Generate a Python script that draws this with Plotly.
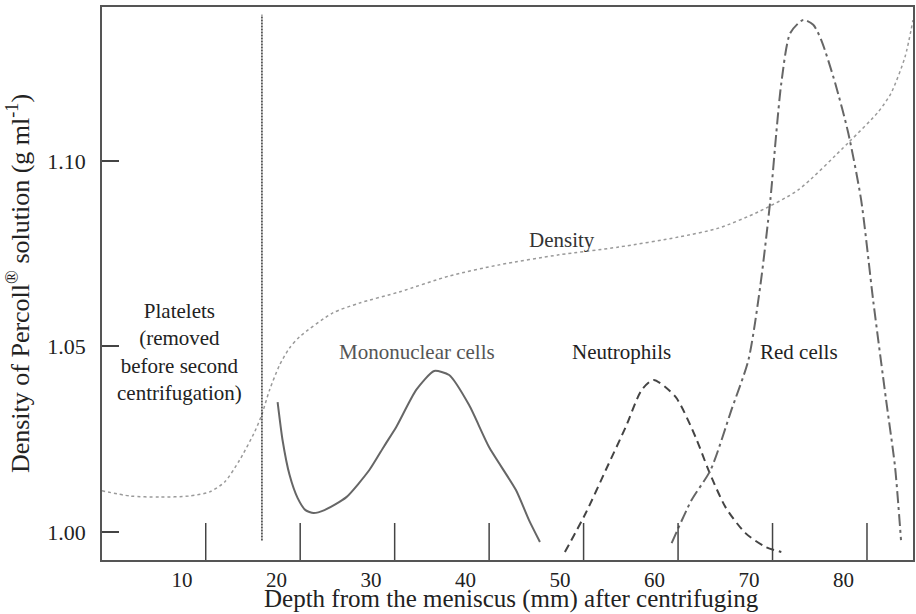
import plotly.graph_objects as go

# ---- data ----
density_x = [1.52, 4.48, 7.64, 10.81, 12.92, 14.51, 16.09, 17.68, 18.42, 19.26, 20.32, 21.37,
             22.43, 25.91, 28.76, 32.99, 38.27, 43.55, 49.88, 56.22, 62.55, 66.78, 71.00,
             75.22, 80.51, 83.68, 85.05, 86.52, 87.37]
density_y = [1.0111, 1.0097, 1.0094, 1.0097, 1.0108, 1.0135, 1.0194, 1.0270, 1.0315, 1.0383,
             1.0450, 1.0496, 1.0526, 1.0590, 1.0617, 1.0647, 1.0690, 1.0720, 1.0747, 1.0768,
             1.0795, 1.0819, 1.0863, 1.0922, 1.1049, 1.1132, 1.1183, 1.1280, 1.1380]

mono_x = [20.11, 20.63, 21.37, 22.22, 23.06, 23.91, 25.07, 27.39, 29.82, 31.40, 32.67, 34.78,
          36.68, 38.27, 40.38, 42.49, 45.34, 46.72, 47.88]
mono_y = [1.0350, 1.0248, 1.0154, 1.0092, 1.0059, 1.0051, 1.0059, 1.0094, 1.0167, 1.0232,
          1.0283, 1.0383, 1.0434, 1.0423, 1.0342, 1.0229, 1.0113, 1.0032, 0.9973]

neut_x = [50.52, 52.73, 54.85, 56.96, 58.65, 59.91, 62.24, 64.35, 65.72, 67.52, 69.63, 71.74, 73.43]
neut_y = [0.9946, 1.0051, 1.0167, 1.0283, 1.0383, 1.0410, 1.0364, 1.0256, 1.0167, 1.0067,
          0.9997, 0.9960, 0.9946]

red_x = [61.82, 63.93, 65.94, 68.15, 69.95, 71.22, 72.27, 72.90, 73.43, 74.38, 75.75, 76.81,
         77.66, 79.13, 80.51, 81.88, 83.15, 84.52, 85.47, 86.10]
red_y = [0.9970, 1.0086, 1.0167, 1.0329, 1.0464, 1.0666, 1.0895, 1.1076, 1.1210, 1.1345,
         1.1380, 1.1367, 1.1326, 1.1210, 1.1076, 1.0895, 1.0625, 1.0356, 1.0175, 0.9978]

separator_x = [18.45, 18.45]
separator_y = [0.9977, 1.1394]

x_tick_values = [10, 20, 30, 40, 50, 60, 70, 80]
x_tick_labels = ["10", "20", "30", "40", "50", "60", "70", "80"]
x_tick_marks = [12.5, 22.5, 32.5, 42.5, 52.5, 62.5, 72.5, 82.5]
y_tick_values = [1.00, 1.05, 1.10]
y_tick_labels = ["1.00", "1.05", "1.10"]

x_title = "Depth from the meniscus (mm) after centrifuging"
y_title = "Density of Percoll<sup>®</sup> solution (g ml<sup>-1</sup>)"

labels = [
    ("Platelets<br>(removed<br>before second<br>centrifugation)", 9.76, 1.0485, "#222222"),
    ("Density", 50.2, 1.0787, "#333333"),
    ("Mononuclear cells", 34.89, 1.0485, "#555555"),
    ("Neutrophils", 56.54, 1.0485, "#222222"),
    ("Red cells", 75.33, 1.0485, "#222222"),
]

X_RANGE = [1.52, 87.37]
Y_RANGE = [0.99245, 1.14151]

FONT = "Liberation Serif, Times New Roman, serif"

fig = go.Figure()

fig.add_trace(go.Scatter(x=density_x, y=density_y, mode="lines",
                         line=dict(color="#9a9a9a", width=1.5, dash="dot", shape="spline", smoothing=0.7),
                         hoverinfo="skip"))
fig.add_trace(go.Scatter(x=mono_x, y=mono_y, mode="lines",
                         line=dict(color="#666666", width=2, shape="spline", smoothing=0.6),
                         hoverinfo="skip"))
fig.add_trace(go.Scatter(x=neut_x, y=neut_y, mode="lines",
                         line=dict(color="#444444", width=2, dash="8px,5px", shape="spline", smoothing=0.7),
                         hoverinfo="skip"))
fig.add_trace(go.Scatter(x=red_x, y=red_y, mode="lines",
                         line=dict(color="#666666", width=2, dash="12px,4px,3px,4px", shape="spline", smoothing=0.7),
                         hoverinfo="skip"))
fig.add_trace(go.Scatter(x=separator_x, y=separator_y, mode="lines",
                         line=dict(color="#333333", width=1.5, dash="2px,1px"),
                         hoverinfo="skip"))

# inward bottom tick marks (offset from labels as in the reference)
for tx in x_tick_marks:
    fig.add_shape(type="line", xref="x", yref="paper", x0=tx, x1=tx, y0=0, y1=37 / 553,
                  line=dict(color="#444444", width=1.5))

for text, lx, ly, col in labels:
    fig.add_annotation(x=lx, y=ly, xref="x", yref="y", text=text, showarrow=False,
                       font=dict(family=FONT, size=21, color=col), align="center")

# x-axis title placed just below the tick labels, as in the reference
fig.add_annotation(x=(513 - 102) / 813, y=-(599 - 560) / 553, xref="paper", yref="paper",
                   text=x_title, showarrow=False, xanchor="center", yanchor="middle",
                   font=dict(family=FONT, size=25, color="#222222"))

fig.update_layout(
    width=916, height=614,
    margin=dict(l=102, r=1, t=7, b=54),
    paper_bgcolor="white", plot_bgcolor="white",
    showlegend=False,
    font=dict(family=FONT, color="#222222"),
)

fig.update_xaxes(
    range=X_RANGE, tickmode="array", tickvals=x_tick_values, ticktext=x_tick_labels,
    ticks="", showgrid=False, zeroline=False,
    showline=True, linecolor="#555555", linewidth=1.5, mirror=True,
    tickfont=dict(family=FONT, size=21, color="#222222"), ticklabelstandoff=0,
)
fig.update_yaxes(
    range=Y_RANGE, tickmode="array", tickvals=y_tick_values, ticktext=y_tick_labels,
    ticks="inside", ticklen=17, tickwidth=1.5, tickcolor="#444444",
    showgrid=False, zeroline=False,
    showline=True, linecolor="#555555", linewidth=1.5, mirror=True,
    tickfont=dict(family=FONT, size=22, color="#222222"), ticklabelstandoff=10,
    title=dict(text=y_title, font=dict(family=FONT, size=26, color="#222222"), standoff=10),
)

fig.write_html("out.html")
